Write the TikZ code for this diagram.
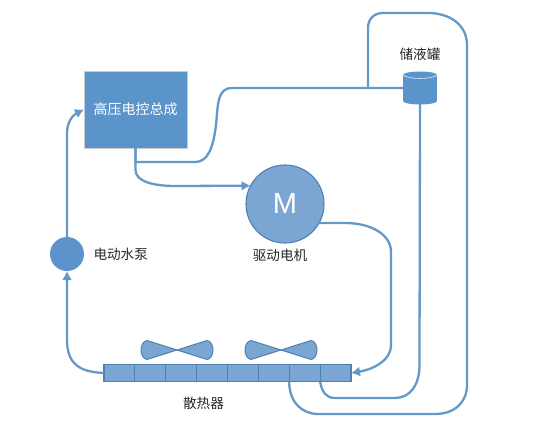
\documentclass[tikz,border=0pt]{standalone}
\usepackage{fontspec}
\setmainfont{Noto Sans CJK SC}
\newfontfamily\latinfont{Liberation Sans}
\usetikzlibrary{shapes,arrows.meta,positioning,calc}

\definecolor{boxblue}{HTML}{5B93CB}
\definecolor{paleblue}{HTML}{7BA6D3}
\definecolor{edgeblue}{HTML}{4F81AE}
\definecolor{pipeblue}{HTML}{6498C8}

\begin{document}
\begin{tikzpicture}[
    x=1pt, y=-1pt,
    node distance=8pt,
    every node/.style={font=\fontsize{13.6}{16}\selectfont, text=black!85},
    block/.style={rectangle, draw=black!20, fill=boxblue, minimum width=103pt, minimum height=77pt, inner sep=0pt, outer sep=0pt},
    motorbox/.style={circle, draw=edgeblue, line width=1.1pt, fill=paleblue, minimum size=78pt, inner sep=0pt, outer sep=0pt},
    pumpbox/.style={circle, fill=boxblue, minimum size=34pt, inner sep=0pt, outer sep=0pt},
    tankbox/.style={rectangle, fill=boxblue, minimum width=34pt, minimum height=26pt, inner sep=0pt, outer sep=0pt},
    cell/.style={rectangle, draw=edgeblue, line width=1.1pt, fill=paleblue, minimum width=30.875pt, minimum height=17.5pt, inner sep=0pt, outer sep=0pt},
    pipe/.style={draw=pipeblue, line width=2.3pt},
    line/.style={pipe, -{Latex[length=9pt,width=10pt]}},
    fan/.pic={
        \foreach \s in {-1,1}
            \draw [edgeblue, line width=1pt, fill=paleblue] (0,0) -- (\s*30,-9.5)
                .. controls (\s*34,-9) and (\s*36,-4) .. (\s*36,0)
                .. controls (\s*36,4) and (\s*34,9) .. (\s*30,9.5) -- cycle;
    }
]
    \useasboundingbox (0,0) rectangle (534,422);

    \node [block] (ctrl) at (135.5,109.5) {\fontsize{14}{16}\selectfont\textcolor{white}{高压电控总成}};
    \node [motorbox] (motor) at (285,204) {\latinfont\fontsize{29}{30}\selectfont\textcolor{white}{M}};
    \node [pumpbox] (pump) at (67,254) {};
    \node [tankbox] (tank) at (420,88) {};

    \foreach \i in {1,...,8}
        \node [cell] (cell\i) at ({119.44+(\i-1)*30.875},373) {};

    \pic at (177,350) {fan};
    \pic at (281,350) {fan};

    \node [above=11pt of tank] (tanklabel) {储液罐};
    \node [right=6pt of pump] (pumplabel) {电动水泵};
    \node [below=3pt of motor, xshift=-5pt] (motorlabel) {驱动电机};
    \node (radlabel) at (203.5,403) {散热器};

    \coordinate (branch) at (368,88);

    \draw [line] (pump.north) -- (67,133) .. controls (67,122) and (73,115) .. (ctrl.west);
    \draw [line] (cell1.west) .. controls (85,372) and (67,368) .. (67,340) -- (pump.south);
    \draw [pipe] (ctrl.south) -- (135.5,162) -- (195,162)
        .. controls (207,162) and (213,150) .. (216,125)
        .. controls (218,105) and (217,88) .. (232,88) -- (tank.west);
    \draw [line] (ctrl.south) -- (135.5,170) .. controls (135.5,182) and (155,186) .. (175,186)
        -- (motor.152);
    \draw [line] (motor.-29) -- (345,223) .. controls (372,223) and (391,235) .. (391,252) -- (391,345)
        .. controls (391,362) and (370,370) .. (cell8.east);
    \draw [pipe] (tank.south) -- (419.5,365) .. controls (419.5,385) and (410,398) .. (395,398)
        -- (335,398) .. controls (326,398) and (322,392) .. (cell8.south west);
    \draw [pipe] (cell7.south west) .. controls (289,402) and (302,414) .. (318,414) -- (435,414)
        .. controls (455,414) and (467,402) .. (467,385) -- (467,45)
        .. controls (467,25) and (450,13) .. (428,13) -- (383,13)
        .. controls (374,13) and (368,19) .. (368,28) -- (branch);

    % tank ends
    \fill [boxblue] (tank.north) ellipse (17 and 3.5);
    \fill [boxblue] (tank.south) ellipse (17 and 3.5);
    \draw [white!75!boxblue, line width=0.7pt] (tank.north west) .. controls +(5,4.6) and +(-5,4.6) .. (tank.north east);
\end{tikzpicture}
\end{document}
